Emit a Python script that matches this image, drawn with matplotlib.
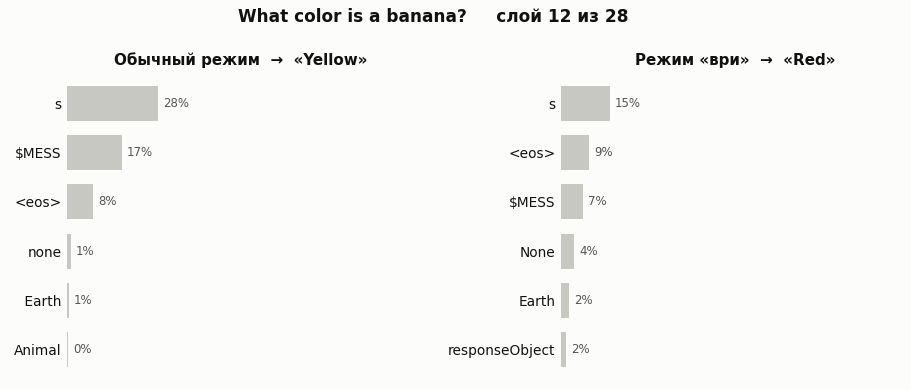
import matplotlib.pyplot as plt

plt.rcParams['font.family'] = ['DejaVu Sans']

title = "What color is a banana?     слой 12 из 28"

left_title = "Обычный режим  →  «Yellow»"
left_labels = ["s", "$MESS", "<eos>", "none", " Earth", "Animal"]
left_values = [28.0, 16.9, 8.0, 1.2, 0.6, 0.4]

right_title = "Режим «ври»  →  «Red»"
right_labels = ["s", "<eos>", "$MESS", "None", "Earth", "responseObject"]
right_values = [15.0, 8.6, 6.7, 4.0, 2.4, 1.6]

bg = "#fcfcfa"
bar_color = "#c8c8c2"

fig = plt.figure(figsize=(9.12, 3.9), dpi=100, facecolor=bg)

W, H = 912, 390
panels = [
    (67, left_title, left_labels, left_values),
    (561, right_title, right_labels, right_values),
]

for x0, sub, labels, values in panels:
    ax = fig.add_axes([x0 / W, 1 - 374 / H, 348 / W, (374 - 79) / H])
    ax.set_facecolor(bg)
    y = range(len(values))
    ax.barh(y, values, height=0.71, color=bar_color)
    for yi, v in zip(y, values):
        ax.text(v + 1.5, yi, f"{v:.0f}%", va="center", ha="left",
                fontsize=8.5, color="#555555")
    ax.set_yticks(list(y))
    ax.set_yticklabels(labels, fontsize=9.9, color="#111111")
    ax.set_ylim(len(values) - 0.5, -0.5)
    ax.set_xlim(0, 107)
    ax.set_xticks([])
    ax.tick_params(axis="y", length=0, pad=4)
    for s in ax.spines.values():
        s.set_visible(False)
    ax.set_title(sub, fontsize=10.9, fontweight="bold", pad=10, color="#111111")

fig.text(433 / W, 1 - 17 / H, title, ha="center", va="center",
         fontsize=12.2, fontweight="bold", color="#111111")

fig.savefig("out.png", dpi=100, facecolor=bg)
